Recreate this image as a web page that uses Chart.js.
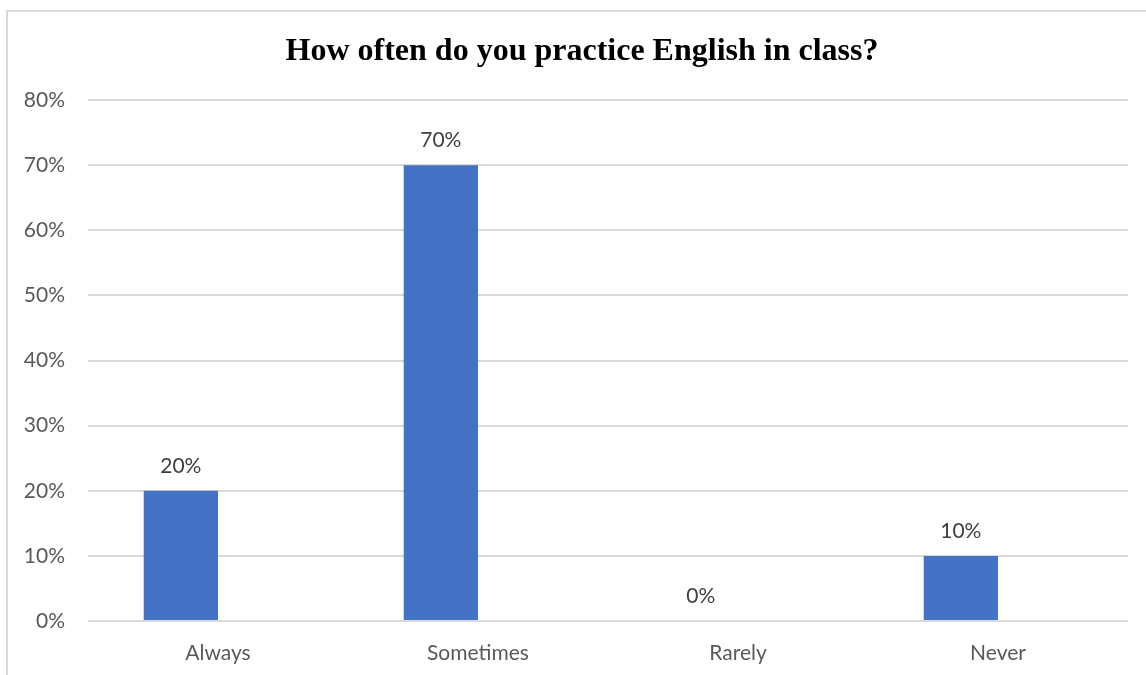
<!DOCTYPE html>
<html>
<head>
<meta charset="utf-8">
<title>How often do you practice English in class?</title>
<script src="https://cdn.jsdelivr.net/npm/chart.js@4/dist/chart.umd.min.js"></script>
<style>
  html, body { margin: 0; padding: 0; background: #ffffff; }
  #frame {
    position: absolute; left: 6px; top: 10px; width: 1150px; height: 680px;
    border-left: 2px solid #d9d9d9; border-top: 2px solid #d9d9d9;
    box-sizing: border-box;
  }
  #wrap { position: absolute; left: 0; top: 0; width: 1146px; height: 675px; }
</style>
</head>
<body>
<div id="frame"></div>
<div id="wrap"><canvas id="myChart"></canvas></div>
<script>
// survey answers, share of students
const answers = ['Always', 'Sometimes', 'Rarely', 'Never'];
const shares = [0.20, 0.70, 0.00, 0.10];
// second series left empty in the sheet, keeps the bars shifted left
const emptySeries = [null, null, null, null];
const yTicks = [0, 0.1, 0.2, 0.3, 0.4, 0.5, 0.6, 0.7, 0.8];
const chartTitle = 'How often do you practice English in class?';

const pct = (v) => Math.round(v * 100) + '%';

// writes the value above each bar of the first series
const barLabels = {
  id: 'barLabels',
  afterDatasetsDraw(chart) {
    const ctx = chart.ctx;
    const meta = chart.getDatasetMeta(0);
    ctx.save();
    ctx.font = '21px Lato';
    ctx.fillStyle = '#404040';
    ctx.textAlign = 'center';
    ctx.textBaseline = 'middle';
    meta.data.forEach((bar, i) => {
      ctx.fillText(pct(shares[i]), bar.x, bar.y - 25);
    });
    ctx.restore();
  }
};

// title centred on the framed box rather than the plot
const boxTitle = {
  id: 'boxTitle',
  afterDraw(chart) {
    const ctx = chart.ctx;
    ctx.save();
    ctx.font = 'bold 32px "Liberation Serif", "Times New Roman", serif';
    ctx.fillStyle = '#000000';
    ctx.textAlign = 'center';
    ctx.textBaseline = 'middle';
    ctx.fillText(chartTitle, 582, 52);
    ctx.restore();
  }
};

const ctx = document.getElementById('myChart');

new Chart(ctx, {
  type: 'bar',
  data: {
    labels: answers,
    datasets: [
      {
        label: 'Share',
        data: shares,
        backgroundColor: '#4472c4',
        categoryPercentage: 2 / 3.5,
        barPercentage: 1.0
      },
      {
        label: '',
        data: emptySeries,
        backgroundColor: '#ed7d31',
        categoryPercentage: 2 / 3.5,
        barPercentage: 1.0
      }
    ]
  },
  options: {
    responsive: true,
    maintainAspectRatio: false,
    animation: false,
    layout: { padding: { left: 0, right: 18, top: 100, bottom: 0 } },
    plugins: {
      legend: { display: false },
      tooltip: { enabled: false },
      title: { display: false }
    },
    scales: {
      x: {
        grid: { display: false, drawTicks: false },
        border: { display: false },
        ticks: { color: '#595959', font: { family: 'Lato', size: 21 }, padding: 20 },
        afterFit: (s) => { s.height = 54; }
      },
      y: {
        min: yTicks[0],
        max: yTicks[yTicks.length - 1],
        grid: { color: '#d9d9d9', lineWidth: 2, drawTicks: false },
        border: { display: false },
        ticks: {
          stepSize: yTicks[1] - yTicks[0],
          color: '#595959',
          font: { family: 'Lato', size: 21 },
          padding: 23,
          callback: (v) => pct(v)
        },
        afterFit: (s) => { s.width = 88; }
      }
    }
  },
  plugins: [barLabels, boxTitle]
});
</script>
</body>
</html>
